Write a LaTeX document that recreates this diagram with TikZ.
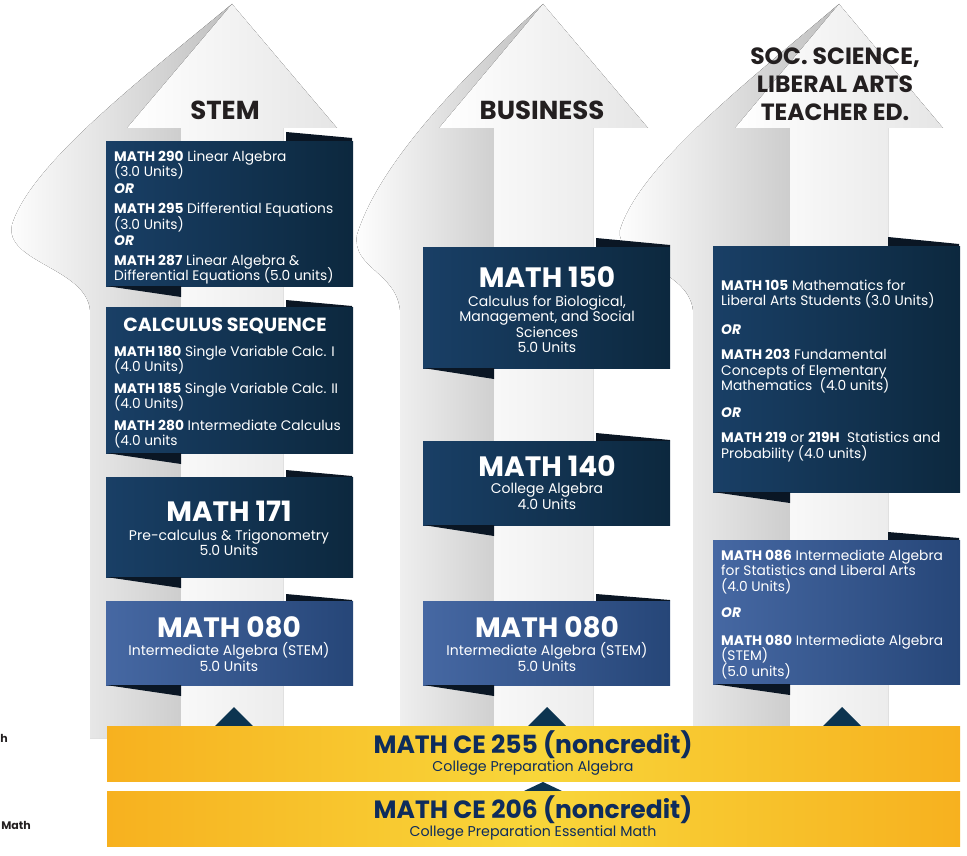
\documentclass[tikz,border=0pt]{standalone}
\usepackage{fontspec}
\setmainfont{Poppins}
\usetikzlibrary{positioning}

\definecolor{navyA}{RGB}{25,63,102}
\definecolor{navyB}{RGB}{12,40,62}
\definecolor{blueA}{RGB}{70,104,163}
\definecolor{blueB}{RGB}{38,70,120}
\definecolor{foldc}{RGB}{10,22,36}
\definecolor{barO}{RGB}{247,177,31}
\definecolor{barY}{RGB}{248,214,58}
\definecolor{bartxt}{RGB}{14,44,92}
\definecolor{tipc}{RGB}{12,52,80}
\definecolor{headtxt}{RGB}{35,31,32}

\newcommand{\tightlines}{\lineskiplimit=-20pt\relax}

\tikzset{
  darkbox/.style={rectangle, inner sep=0pt, left color=navyA, right color=navyB, minimum width=247pt, anchor=north west},
  lightbox/.style={darkbox, left color=blueA, right color=blueB},
  fold/.style={fill=foldc},
  shadowfill/.style={left color=white, right color=gray!50},
  arrowfill/.style={left color=white, right color=gray!20},
  boxtext/.style={text=white, align=left, anchor=north west, inner sep=0pt, font=\fontsize{13.8}{15.5}\selectfont\tightlines},
  subtext/.style={text=white, align=center, inner sep=0pt, font=\fontsize{14}{15.5}\selectfont\tightlines},
  bigtitle/.style={text=white, inner sep=0pt, font=\fontsize{28}{30}\selectfont\bfseries},
  heading/.style={text=headtxt, align=center, inner sep=0pt, font=\fontsize{26}{28}\selectfont\bfseries},
  bar/.style={rectangle, inner sep=0pt, minimum width=853pt, minimum height=55pt, left color=barO, right color=barO, middle color=barY, anchor=north west},
  bartitle/.style={text=bartxt, inner sep=0pt, font=\fontsize{25}{28}\selectfont\bfseries},
  barsub/.style={text=bartxt, inner sep=0pt, font=\fontsize{14.2}{16}\selectfont},
  tip/.style={fill=tipc},
}

\begin{document}
\begin{tikzpicture}[x=1pt,y=-1pt]
	\useasboundingbox (0,0) rectangle (967,856);
	% shadows behind the three arrows
	\fill[shadowfill] (232,4) .. controls (140,80) and (30,165) .. (12,225) .. controls (4,262) and (86,268) .. (90,310) -- (90,738) -- (200,738) -- (200,128) -- cycle;
	\fill[shadowfill] (543,4) .. controls (470,70) and (380,160) .. (357,235) .. controls (352,268) and (396,272) .. (400,310) -- (400,738) -- (510,738) -- (510,128) -- cycle;
	\fill[shadowfill] (839,4) .. controls (750,80) and (640,165) .. (620,230) .. controls (615,262) and (688,268) .. (693,310) -- (693,738) -- (805,738) -- (805,128) -- cycle;
	% arrows
	\fill[arrowfill] (127,128) -- (232,4) -- (337,128) -- (283,128) -- (283,726) -- (181,726) -- (181,128) -- cycle;
	\fill[arrowfill] (439,128) -- (543,4) -- (648,128) -- (593,128) -- (593,726) -- (494,726) -- (494,128) -- cycle;
	\fill[arrowfill] (735,128) -- (839,4) -- (943,128) -- (888,128) -- (888,726) -- (790,726) -- (790,128) -- cycle;
	\node[heading] (stem) at (225,110) {STEM};
	\node[heading] (business) at (542,110) {BUSINESS};
	\node[heading, font=\fontsize{23.5}{28}\selectfont\bfseries] (soc) at (835,84) {SOC. SCIENCE,\\LIBERAL ARTS\\TEACHER ED.};

	% STEM column
	\fill[fold] (286,132) -- (352,138) -- (352,141) -- (286,141) -- cycle;
	\node[darkbox, minimum height=145pt] (linbox) at (106,141) {};
	\fill[fold] (106,286) -- (181,297) -- (181,286) -- cycle;
	\node[boxtext] (lintxt) at (114,150.5) {\textbf{MATH 290} Linear Algebra\\(3.0 Units)\\[1pt]\textbf{\textit{OR}}\\[5pt]\textbf{MATH 295} Differential Equations\\(3.0 Units)\\[1pt]\textbf{\textit{OR}}\\[4pt]\textbf{MATH 287} Linear Algebra \&\\Differential Equations (5.0 units)};

	\fill[fold] (286,300) -- (352,306) -- (352,307) -- (286,307) -- cycle;
	\node[darkbox, minimum height=146pt] (calcbox) at (106,307) {};
	\fill[fold] (106,453) -- (181,464) -- (181,453) -- cycle;
	\node[text=white, inner sep=0pt, font=\fontsize{19}{20}\selectfont\bfseries] (calctitle) at (225,326) {CALCULUS SEQUENCE};
	\node[boxtext] (calctxt) at (114,345.5) {\textbf{MATH 180} Single Variable Calc. I\\(4.0 Units)\\[6pt]\textbf{MATH 185} Single Variable Calc. II\\(4.0 Units)\\[6pt]\textbf{MATH 280} Intermediate Calculus\\(4.0 units};

	\fill[fold] (286,470) -- (352,476) -- (352,477) -- (286,477) -- cycle;
	\node[darkbox, minimum height=100pt] (trigbox) at (106,477) {};
	\fill[fold] (106,577) -- (181,588) -- (181,577) -- cycle;
	\node[bigtitle] (trigtitle) at (229,511) {MATH 171};
	\node[subtext] (trigtxt) at (229,542.5) {Pre-calculus \& Trigonometry\\5.0 Units};

	\fill[fold] (286,594) -- (352,600) -- (352,601) -- (286,601) -- cycle;
	\node[lightbox, minimum height=84pt] (stemalg) at (106,601) {};
	\fill[fold] (106,685) -- (181,696) -- (181,685) -- cycle;
	\node[bigtitle] (stemalgtitle) at (229,627) {MATH 080};
	\node[subtext] (stemalgtxt) at (229,657) {Intermediate Algebra (STEM)\\5.0 Units};

	% BUSINESS column
	\fill[fold] (596,238) -- (670,245) -- (670,247) -- (596,247) -- cycle;
	\node[darkbox, minimum height=121pt] (bcalc) at (423,247) {};
	\fill[fold] (423,368) -- (494,379) -- (494,368) -- cycle;
	\node[bigtitle] (bcalctitle) at (547,277) {MATH 150};
	\node[subtext] (bcalctxt) at (547,324) {Calculus for Biological,\\Management, and Social\\Sciences\\5.0 Units};

	\fill[fold] (596,433) -- (670,440) -- (670,441) -- (596,441) -- cycle;
	\node[darkbox, minimum height=84pt] (balg) at (423,441) {};
	\fill[fold] (423,525) -- (494,536) -- (494,525) -- cycle;
	\node[bigtitle] (balgtitle) at (547,466) {MATH 140};
	\node[subtext] (balgtxt) at (547,496.5) {College Algebra\\4.0 Units};

	\fill[fold] (596,594) -- (670,600) -- (670,601) -- (596,601) -- cycle;
	\node[lightbox, minimum height=84pt] (bint) at (423,601) {};
	\fill[fold] (423,685) -- (494,696) -- (494,685) -- cycle;
	\node[bigtitle] (binttitle) at (547,627) {MATH 080};
	\node[subtext] (binttxt) at (547,657) {Intermediate Algebra (STEM)\\5.0 Units};

	% SOC. SCIENCE column
	\fill[fold] (888,237) -- (959,244) -- (959,246) -- (888,246) -- cycle;
	\node[darkbox, minimum height=246pt] (libart) at (713,246) {};
	\fill[fold] (713,492) -- (790,503) -- (790,492) -- cycle;
	\node[boxtext] (libtxt) at (721,279.5) {\textbf{MATH 105} Mathematics for\\Liberal Arts Students (3.0 Units)\\[13pt]\textbf{\textit{OR}}\\[10pt]\textbf{MATH 203} Fundamental\\Concepts of Elementary\\Mathematics\ \ (4.0 units)\\[11pt]\textbf{\textit{OR}}\\[10pt]\textbf{MATH 219} or \textbf{219H}\ \ Statistics and\\Probability (4.0 units)};

	\fill[fold] (888,532) -- (959,538) -- (959,540) -- (888,540) -- cycle;
	\node[lightbox, minimum height=144pt] (libalg) at (713,540) {};
	\fill[fold] (713,684) -- (790,695) -- (790,684) -- cycle;
	\node[boxtext] (libalgtxt) at (721,549.5) {\textbf{MATH 086} Intermediate Algebra\\for Statistics and Liberal Arts\\(4.0 Units)\\[11pt]\textbf{\textit{OR}}\\[12pt]\textbf{MATH 080} Intermediate Algebra\\(STEM)\\(5.0 units)};

	% noncredit bars
	\fill[tip] (215,726) -- (234,707) -- (253,726) -- cycle;
	\fill[tip] (528,726) -- (547,707) -- (566,726) -- cycle;
	\fill[tip] (823,726) -- (842,707) -- (861,726) -- cycle;
	\node[bar] (ce255) at (107,726) {};
	\node[bartitle] (ce255title) at (533,745) {MATH CE 255 (noncredit)};
	\node[barsub] (ce255txt) at (533,768) {College Preparation Algebra};
	\fill[tip] (524,791) -- (543,782) -- (562,791) -- cycle;
	\node[bar] (ce206) at (107,791) {};
	\node[bartitle] (ce206title) at (533,810) {MATH CE 206 (noncredit)};
	\node[barsub] (ce206txt) at (533,833) {College Preparation Essential Math};

	\node[anchor=east, inner sep=0pt, text=headtxt, font=\fontsize{11}{13}\selectfont\bfseries] (fraga) at (8,738) {h};
	\node[anchor=east, inner sep=0pt, text=headtxt, font=\fontsize{11}{13}\selectfont\bfseries] (fragb) at (31,825) {Math};
\end{tikzpicture}
\end{document}
